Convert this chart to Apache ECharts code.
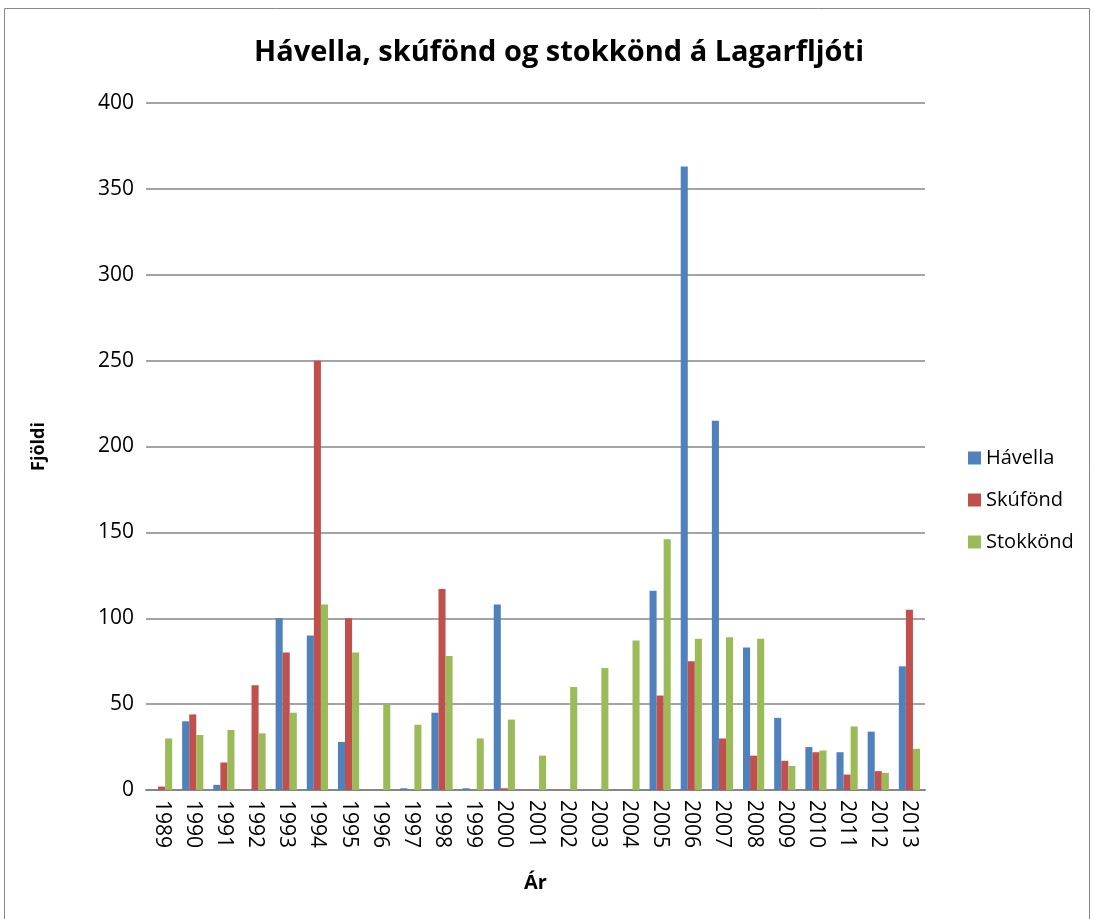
<!DOCTYPE html>
<html><head><meta charset="utf-8">
<script src="https://cdn.jsdelivr.net/npm/echarts@6/dist/echarts.min.js"></script>
<style>html,body{margin:0;padding:0;background:#fff}#c{width:1094px;height:919px}</style>
</head><body><div id="c"></div>
<script>
const years = ['1989','1990','1991','1992','1993','1994','1995','1996','1997','1998','1999','2000','2001','2002','2003','2004','2005','2006','2007','2008','2009','2010','2011','2012','2013'];
const havella =  [0,40,3,0,100,90,28,0,1,45,1,108,0,0,0,0,116,363,215,83,42,25,22,34,72];
const skufond =  [2,44,16,61,80,250,100,0,0,117,0,1,0,0,0,0,55,75,30,20,17,22,9,11,105];
const stokkond = [30,32,35,33,45,108,80,50,38,78,30,41,20,60,71,87,146,88,89,88,14,23,37,10,24];
const yTicks = [0,50,100,150,200,250,300,350,400];

const font = 'Open Sans, Noto Sans, Liberation Sans, sans-serif';
const chart = echarts.init(document.getElementById('c'));
const mk = (name, data, color) => ({
  name, type: 'bar', data, barGap: '0%', barCategoryGap: '32%',
  itemStyle: {color},
  animation: false
});
chart.setOption({
  animation: false,
  graphic: [{type:'rect', shape:{x:4.5,y:8.5,width:1085,height:920}, style:{fill:'none', stroke:'#888', lineWidth:1}}],
  title: {text: 'Hávella, skúfönd og stokkönd á Lagarfljóti', left: 554, top: 33, textAlign: 'center',
    textStyle: {fontFamily: font, fontSize: 29, fontWeight: 'bold', color: '#000'}},
  grid: {left: 146, right: 169, top: 103, bottom: 129, containLabel: false},
  legend: {orient: 'vertical', left: 963, top: 443, itemWidth: 13, itemHeight: 13, itemGap: 22,
    icon: 'rect', textStyle: {fontFamily: font, fontSize: 20, color: '#000'},
    data: ['Hávella','Skúfönd','Stokkönd']},
  xAxis: {type: 'category', data: years, name: 'Ár', nameLocation: 'middle', nameGap: 83,
    nameTextStyle: {fontFamily: font, fontSize: 20, fontWeight: 'bold', color: '#000'},
    axisLine: {lineStyle: {color: '#868686', width: 2}}, axisTick: {show: false},
    axisLabel: {rotate: -90, fontFamily: font, fontSize: 21, color: '#000', margin: 10, interval: 0}},
  yAxis: {type: 'value', min: 0, max: 400, interval: 50, name: 'Fjöldi', nameLocation: 'middle', nameGap: 98,
    nameTextStyle: {fontFamily: font, fontSize: 18, fontWeight: 'bold', color: '#000'},
    axisLine: {show: false}, axisTick: {show: false},
    splitLine: {lineStyle: {color: '#868686', width: 1.5}},
    axisLabel: {fontFamily: font, fontSize: 21, color: '#000', margin: 12,
      formatter: v => yTicks.includes(v) ? String(v) : ''}},
  series: [mk('Hávella', havella, '#4F81BD'), mk('Skúfönd', skufond, '#C0504D'), mk('Stokkönd', stokkond, '#9BBB59')]
});
</script></body></html>
